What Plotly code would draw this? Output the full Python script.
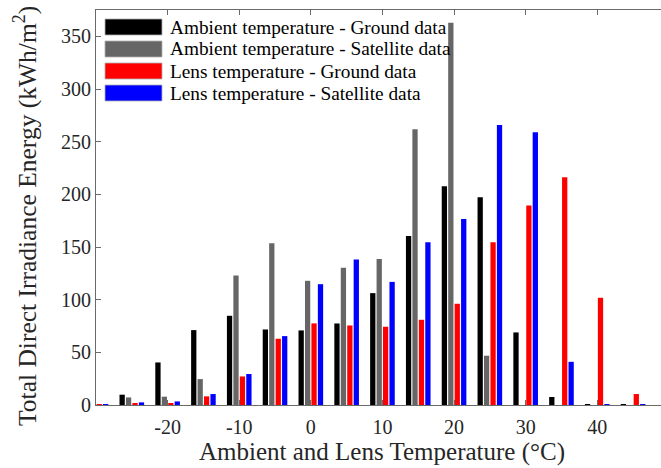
import plotly.graph_objects as go

# Temperature bin centres (°C) and binned direct irradiance energy (kWh/m²)
temps = [-30, -25, -20, -15, -10, -5, 0, 5, 10, 15, 20, 25, 30, 35, 40, 45]
ambient_ground = [0, 9.8, 40.4, 71.1, 84.7, 71.7, 70.8, 77.4, 106.2, 160.5, 207.7, 197.2, 68.9, 7.6, 0.5, 0.3]
ambient_satellite = [0, 7.2, 7.9, 24.6, 122.9, 153.6, 117.9, 130.2, 138.7, 261.7, 362.8, 46.8, 0, 0, 0, 0]
lens_ground = [0.8, 1.0, 1.2, 8.2, 27.1, 62.9, 77.5, 75.5, 74.3, 80.9, 96.1, 154.5, 189.3, 216.3, 101.8, 10.4]
lens_satellite = [0.8, 2.5, 3.4, 10.4, 29.4, 65.4, 114.7, 138.1, 116.9, 154.6, 176.7, 265.8, 258.9, 41.0, 0.6, 0.6]

series_names = [
    "Ambient temperature - Ground data",
    "Ambient temperature - Satellite data",
    "Lens temperature - Ground data",
    "Lens temperature - Satellite data",
]
series_values = [ambient_ground, ambient_satellite, lens_ground, lens_satellite]
series_colors = ["#000000", "#666666", "#ff0000", "#0000ff"]

x_ticks = [-20, -10, 0, 10, 20, 30, 40]
y_ticks = [0, 50, 100, 150, 200, 250, 300, 350]

FONT = "Liberation Serif"
TXT = "#262626"
AX = "#6a6a6a"

W, H = 661, 468
ML, MR, MT, MB = 96, 0, 10, 63
PW, PH = W - ML - MR, H - MT - MB


def fx(p):
    """pixel column -> paper x"""
    return (p - ML) / PW


def fy(p):
    """pixel row -> paper y"""
    return (H - MB - p) / PH


fig = go.Figure()
for name, vals, col in zip(series_names, series_values, series_colors):
    fig.add_trace(go.Bar(
        x=temps, y=vals, name=name,
        marker=dict(color=col, line=dict(width=0)),
        showlegend=False,
    ))

# legend drawn with wide swatches
shapes = []
annotations = []
for i, (name, col) in enumerate(zip(series_names, series_colors)):
    yc = 27 + 22 * i
    shapes.append(dict(
        type="rect", xref="paper", yref="paper",
        x0=fx(105), x1=fx(162), y0=fy(yc + 8), y1=fy(yc - 8),
        fillcolor=col, line=dict(color="#b0b0b0", width=0.8),
    ))
    annotations.append(dict(
        xref="paper", yref="paper", x=fx(168), y=fy(yc),
        xanchor="left", yanchor="middle", showarrow=False,
        text=name, font=dict(family=FONT, size=19.3, color="#000000"),
    ))

annotations.append(dict(
    xref="paper", yref="paper", x=fx(382), y=fy(452),
    xanchor="center", yanchor="middle", showarrow=False,
    text="Ambient and Lens Temperature (°C)",
    font=dict(family=FONT, size=25, color=TXT),
))
annotations.append(dict(
    xref="paper", yref="paper", x=fx(25), y=fy(216),
    xanchor="center", yanchor="middle", showarrow=False, textangle=-90,
    text="Total Direct Irradiance Energy (kWh/m<sup>2</sup>)",
    font=dict(family=FONT, size=25.5, color=TXT),
))

fig.update_layout(
    width=W, height=H,
    margin=dict(l=ML, r=MR, t=MT, b=MB, pad=0),
    paper_bgcolor="white", plot_bgcolor="white",
    barmode="group", bargap=0.28, bargroupgap=0.18,
    shapes=shapes, annotations=annotations,
    font=dict(family=FONT, color=TXT),
)
fig.update_xaxes(
    range=[-30, -30 + PW / 7.161],
    tickvals=x_ticks, ticktext=[str(v) for v in x_ticks],
    ticks="inside", ticklen=5, tickwidth=1, tickcolor=AX,
    showline=True, linecolor=AX, linewidth=1, mirror="ticks",
    showgrid=False, zeroline=False, ticklabelstandoff=4,
    tickfont=dict(family=FONT, size=20, color=TXT),
)
fig.update_yaxes(
    range=[0, 375],
    tickvals=y_ticks, ticktext=[str(v) for v in y_ticks],
    ticks="inside", ticklen=5, tickwidth=1, tickcolor=AX,
    showline=True, linecolor=AX, linewidth=1,
    showgrid=False, zeroline=False,
    tickfont=dict(family=FONT, size=20, color=TXT),
)

fig.write_html("out.html")
